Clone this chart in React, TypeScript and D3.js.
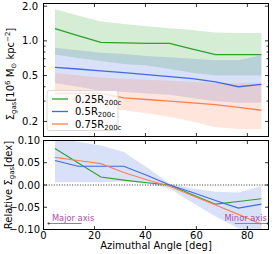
import React from 'react';
import * as d3 from 'd3';

// Azimuthal angle bin centres [deg]
const angles = [4.5, 13.5, 22.5, 31.5, 40.5, 49.5, 58.5, 67.5, 76.5, 85.5];

// Top panel: Sigma_gas medians and percentile bands
const g25Mid = [1.28, 1.11, 0.97, 0.96, 0.95, 0.95, 0.85, 0.76, 0.76, 0.76];
const g25Hi = [1.88, 1.66, 1.47, 1.40, 1.34, 1.29, 1.24, 1.18, 1.17, 1.17];
const g25Lo = [0.76, 0.71, 0.67, 0.63, 0.61, 0.57, 0.53, 0.50, 0.50, 0.50];

const b50Mid = [0.59, 0.57, 0.55, 0.53, 0.51, 0.49, 0.47, 0.44, 0.40, 0.42];
const b50Hi = [0.87, 0.83, 0.79, 0.77, 0.74, 0.72, 0.70, 0.68, 0.68, 0.75];
const b50Lo = [0.43, 0.40, 0.37, 0.36, 0.35, 0.34, 0.32, 0.30, 0.29, 0.29];

const o75Mid = [0.35, 0.35, 0.35, 0.32, 0.31, 0.30, 0.29, 0.28, 0.265, 0.25];
const o75Hi = [0.53, 0.50, 0.48, 0.47, 0.46, 0.45, 0.44, 0.43, 0.43, 0.43];
const o75Lo = [0.27, 0.265, 0.26, 0.25, 0.235, 0.22, 0.20, 0.178, 0.172, 0.171];

// Bottom panel: relative Sigma_gas [dex]
const relG25 = [0.082, 0.05, 0.018, 0.011, 0.005, 0.0, -0.022, -0.043, -0.037, -0.031];
const relB50 = [0.055, 0.042, 0.042, 0.042, 0.022, 0.0, -0.017, -0.035, -0.052, -0.043];
const relO75 = [0.062, 0.055, 0.048, 0.028, 0.012, -0.003, -0.024, -0.045, -0.066, -0.088];
const relBandHi = [0.11, 0.097, 0.089, 0.074, 0.04, 0.003, -0.008, -0.015, -0.017, -0.003];
const relBandLo = [0.006, 0.006, 0.006, 0.008, 0.004, -0.008, -0.04, -0.071, -0.097, -0.105];

// Ticks
const xTicks = [0, 20, 40, 60, 80];
const yTopTicks = [0.2, 0.5, 1.0, 2.0];
const yTopMinor = [0.3, 0.4, 0.6, 0.7, 0.8, 0.9];
const yBotTicks = [-0.1, -0.05, 0, 0.05, 0.1];

const seriesLabels = ['0.25', '0.5', '0.75'];
const colors = ['#2ca02c', '#4169e1', '#ff7f50'];

// annotation positions (data coords)
const majorArrow = [2, 15];
const minorArrow = [75, 88];
const arrowY = -0.0865;
const annoTextY = -0.0815;

const W = 274, H = 254;
const L = 43.5, R = 268.5;
const T1 = 3.5, B1 = 136.5;
const T2 = 140.5, B2 = 229.5;

export default function App() {
  const x = d3.scaleLinear().domain([0, 88.3]).range([L, R]);
  const yT = d3.scaleLog().domain([0.148, 2.11]).range([B1, T1]);
  const yB = d3.scaleLinear().domain([-0.1, 0.1]).range([B2, T2]);

  const area = (lo: number[], hi: number[], ys: any) =>
    d3.area<number>().x((_, i) => x(angles[i])).y0((_, i) => ys(lo[i])).y1((_, i) => ys(hi[i]))(angles) || '';
  const line = (v: number[], ys: any) =>
    d3.line<number>().x((_, i) => x(angles[i])).y((_, i) => ys(v[i]))(angles) || '';

  const tops = [[g25Lo, g25Hi, g25Mid], [b50Lo, b50Hi, b50Mid], [o75Lo, o75Hi, o75Mid]];
  const rels = [relG25, relB50, relO75];
  const font = 'DejaVu Sans, sans-serif';
  const tk = 3.5;

  const fmtB = (v: number) => (v < 0 ? '\u2212' : '') + Math.abs(v).toFixed(2);

  return (
    <svg width={W} height={H} style={{ position: 'absolute', left: 0, top: 0 }} fontFamily={font}>
      <defs>
        <clipPath id="c1"><rect x={L} y={T1} width={R - L} height={B1 - T1} /></clipPath>
        <clipPath id="c2"><rect x={L} y={T2} width={R - L} height={B2 - T2} /></clipPath>
      </defs>
      <rect width={W} height={H} fill="#fff" />
      {/* top panel */}
      <g clipPath="url(#c1)">
        {tops.map((s, i) => (
          <path key={'a' + i} d={area(s[0], s[1], yT)} fill={colors[i]} fillOpacity={0.2} stroke="none" />
        ))}
        {tops.map((s, i) => (
          <path key={'l' + i} d={line(s[2], yT)} fill="none" stroke={colors[i]} strokeWidth={1.3} />
        ))}
      </g>
      {/* legend */}
      <g>
        <rect x={47} y={90.5} width={71} height={40} rx={2.5} fill="#fff" fillOpacity={0.8} stroke="#d0d0d0" strokeWidth={0.8} />
        {seriesLabels.map((s, i) => (
          <g key={s}>
            <line x1={52} x2={68} y1={99 + i * 12.5} y2={99 + i * 12.5} stroke={colors[i]} strokeWidth={1.3} />
            <text x={75} y={102.5 + i * 12.5} fontSize={10} fill="#000">
              {s}R<tspan fontSize={7} dy={2}>200c</tspan>
            </text>
          </g>
        ))}
      </g>
      {/* axes ticks */}
      <g stroke="#000" strokeWidth={0.8}>
        {yTopTicks.map((v) => (
          <g key={v}>
            <line x1={L} x2={L + tk} y1={yT(v)} y2={yT(v)} />
            <line x1={R} x2={R - tk} y1={yT(v)} y2={yT(v)} />
          </g>
        ))}
        {yTopMinor.map((v) => (
          <g key={v}>
            <line x1={L} x2={L + 2} y1={yT(v)} y2={yT(v)} />
            <line x1={R} x2={R - 2} y1={yT(v)} y2={yT(v)} />
          </g>
        ))}
        {xTicks.map((v) => (
          <g key={v}>
            <line x1={x(v)} x2={x(v)} y1={T1} y2={T1 + tk} />
            <line x1={x(v)} x2={x(v)} y1={B1} y2={B1 - tk} />
            <line x1={x(v)} x2={x(v)} y1={T2} y2={T2 + tk} />
            <line x1={x(v)} x2={x(v)} y1={B2} y2={B2 - tk} />
          </g>
        ))}
        {yBotTicks.map((v) => (
          <g key={v}>
            <line x1={L} x2={L + tk} y1={yB(v)} y2={yB(v)} />
            <line x1={R} x2={R - tk} y1={yB(v)} y2={yB(v)} />
          </g>
        ))}
      </g>
      <rect x={L} y={T1} width={R - L} height={B1 - T1} fill="none" stroke="#000" strokeWidth={1} />
      {yTopTicks.map((v) => (
        <text key={v} x={38} y={yT(v) + 3.5} fontSize={10} textAnchor="end" fill="#000">{v.toFixed(1)}</text>
      ))}
      {/* bottom panel */}
      <g clipPath="url(#c2)">
        <path d={area(relBandLo, relBandHi, yB)} fill={colors[1]} fillOpacity={0.2} stroke="none" />
        <line x1={L} x2={R} y1={yB(0)} y2={yB(0)} stroke="#000" strokeWidth={0.8} strokeDasharray="1,1.6" />
        {rels.map((v, i) => (
          <path key={i} d={line(v, yB)} fill="none" stroke={colors[i]} strokeWidth={1.1} />
        ))}
      </g>
      <rect x={L} y={T2} width={R - L} height={B2 - T2} fill="none" stroke="#000" strokeWidth={1} />
      {yBotTicks.map((v) => (
        <text key={v} x={40} y={yB(v) + 3.5} fontSize={10} textAnchor="end" fill="#000">{fmtB(v)}</text>
      ))}
      {xTicks.map((v) => (
        <text key={v} x={x(v)} y={239} fontSize={10} textAnchor="middle" fill="#000">{v}</text>
      ))}
      {/* annotations */}
      <line x1={x(majorArrow[0])} x2={x(majorArrow[1])} y1={yB(arrowY)} y2={yB(arrowY)} stroke="#888" strokeWidth={1} />
      <circle cx={x(majorArrow[0])} cy={yB(arrowY)} r={1.1} fill="#333" />
      <text x={x(3.3)} y={yB(annoTextY)} fontSize={8.3} fill="#b04cb0">Major axis</text>
      <line x1={x(minorArrow[0])} x2={x(minorArrow[1])} y1={yB(arrowY)} y2={yB(arrowY)} stroke="#888" strokeWidth={1} />
      <circle cx={x(minorArrow[1])} cy={yB(arrowY)} r={1.1} fill="#333" />
      <text x={x(71)} y={yB(annoTextY)} fontSize={8.3} fill="#b04cb0">Minor axis</text>
      {/* axis labels */}
      <text x={156} y={249} fontSize={10} textAnchor="middle" fill="#000">Azimuthal Angle [deg]</text>
      <text transform="translate(14,74) rotate(-90)" fontSize={10} textAnchor="middle" fill="#000">
        Σ<tspan fontSize={7} dy={2}>gas</tspan><tspan dy={-2}>[10</tspan><tspan fontSize={7} dy={-4}>6</tspan><tspan dy={4}> M</tspan><tspan fontSize={7} dy={2}>⊙</tspan><tspan dy={-2}> kpc</tspan><tspan fontSize={7} dy={-4}>−2</tspan><tspan dy={4}>]</tspan>
      </text>
      <text transform="translate(12,185) rotate(-90)" fontSize={10} textAnchor="middle" fill="#000">
        Relative Σ<tspan fontSize={7} dy={2}>gas</tspan><tspan dy={-2}>[dex]</tspan>
      </text>
    </svg>
  );
}
